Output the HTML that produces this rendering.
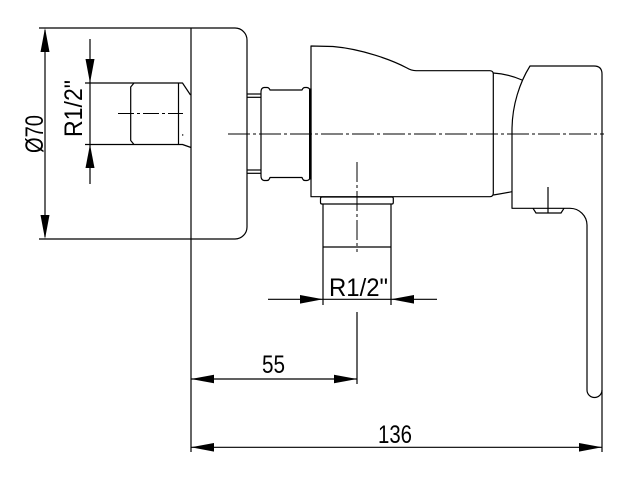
<!DOCTYPE html>
<html><head><meta charset="utf-8"><style>
html,body{margin:0;padding:0;background:#fff;}
svg{display:block;}
text{font-family:"Liberation Sans",sans-serif;fill:#000;}
</style></head><body>
<svg width="634" height="482" viewBox="0 0 634 482" xmlns="http://www.w3.org/2000/svg">
<g fill="none" stroke="#000" stroke-width="1.2" stroke-linejoin="round">
  <!-- flange -->
  <path d="M39,28 H235 A12,12 0 0 1 247,40 V227 A12,12 0 0 1 235,239 H39"/>
  <line x1="191" y1="28" x2="191" y2="452"/>
  <!-- Ø70 dim line -->
  <line x1="45" y1="30" x2="45" y2="237"/>
  <!-- left thread -->
  <path d="M85,83 H182.5 L190.5,95"/>
  <path d="M85,144.5 H182.5 L191,147.5"/>
  <path d="M134,83 L130.7,87 V140.5 L134,144.5"/>
  <line x1="178.5" y1="83" x2="178.5" y2="144.5"/>
  <line x1="90" y1="39" x2="90" y2="184"/>
  <!-- stubs -->
  <line x1="247" y1="94" x2="261" y2="94"/>
  <line x1="247" y1="97.3" x2="261" y2="97.3"/>
  <line x1="247" y1="170" x2="261" y2="170"/>
  <line x1="247" y1="173.3" x2="261" y2="173.3"/>
  <!-- nut -->
  <path d="M261,92 Q261,88 264,87.5 H267 Q269,87.5 270,90 H302 Q303,87.5 305,87.5 H307 Q310,88 310,91 V177 Q310,180 307,180.5 H305 Q303,180.5 302,177.5 H270 Q269,180.5 267,180.5 H264 Q261,180 261,176 Z"/>
  <!-- body -->
  <path d="M311,46 L333,46.5 C362,49 392,60 407,68 Q411,70.5 416,70.7 L490,70.7 Q493.3,71 493.3,74 L493.3,193 Q493.3,196.5 490,196.7 L311,196.7 Z"/>
  <path d="M493.3,73 Q508,74 522,80"/>
  <path d="M493.3,195 Q503,193.5 512,191.7"/>
  <!-- handle -->
  <path d="M512,130 C512,105 520,82 530,66 H594 Q602,66 602,74 V452"/>
  <path d="M512,130 V208.3 H570 A17,17 0 0 1 587,225 V390 A7.5,7.5 0 0 0 602,390"/>
  <path d="M533,208.3 L536,213 H561 L564,208.3"/>
  <line x1="548" y1="187" x2="548" y2="213"/>
  <!-- lower pipe -->
  <path d="M322,197 H392 Q393.3,197 393.3,198.5 V202.5 Q393.3,204 392,204 H322 Q320.5,204 320.5,202.5 V198.5 Q320.5,197 322,197 Z"/>
  <line x1="323" y1="204" x2="323" y2="305"/>
  <line x1="391" y1="204" x2="391" y2="305"/>
  <line x1="323" y1="247" x2="391" y2="247"/>
  <!-- lower dim -->
  <line x1="268" y1="299.3" x2="437" y2="299.3"/>
  <line x1="357" y1="312" x2="357" y2="384"/>
  <line x1="191" y1="379" x2="357" y2="379"/>
  <line x1="191" y1="447.3" x2="602" y2="447.3"/>
</g>
<!-- thick nut edge -->
<rect x="309" y="88.5" width="2.6" height="91" fill="#000"/>
<!-- center lines -->
<g fill="none" stroke="#000" stroke-width="1">
  <line x1="228" y1="134" x2="604" y2="134" stroke-dasharray="22 3 3 3"/>
  <line x1="357" y1="162" x2="357" y2="252" stroke-dasharray="20 3 3 3"/>
  <line x1="118" y1="113.5" x2="183" y2="113.5" stroke-dasharray="16 3 3 3"/>
</g>
<circle cx="182.7" cy="135" r="0.7" fill="#000"/>
<!-- arrowheads -->
<g fill="#000">
  <polygon points="45,28 40.5,52 49.5,52"/>
  <polygon points="45,239 40.5,215 49.5,215"/>
  <polygon points="90,83 85.5,59 94.5,59"/>
  <polygon points="90,144.5 85.5,168 94.5,168"/>
  <polygon points="323,299.3 300,295 300,303.6"/>
  <polygon points="391,299.3 414,295 414,303.6"/>
  <polygon points="191,379 214,374.7 214,383.3"/>
  <polygon points="357,379 334,374.7 334,383.3"/>
  <polygon points="191,447.3 214,443 214,451.6"/>
  <polygon points="602,447.3 579,443 579,451.6"/>
</g>
<!-- texts -->
<text x="329" y="296" font-size="25" textLength="59" lengthAdjust="spacingAndGlyphs">R1/2"</text>
<text x="262" y="373" font-size="25" textLength="23" lengthAdjust="spacingAndGlyphs">55</text>
<text x="378" y="443" font-size="25" textLength="34" lengthAdjust="spacingAndGlyphs">136</text>
<text transform="translate(43,134) rotate(-90)" x="-19" y="0" font-size="25" textLength="38" lengthAdjust="spacingAndGlyphs">Ø70</text>
<text transform="translate(82,108.5) rotate(-90)" x="-28.5" y="0" font-size="25" textLength="57" lengthAdjust="spacingAndGlyphs">R1/2"</text>
</svg>
</body></html>
